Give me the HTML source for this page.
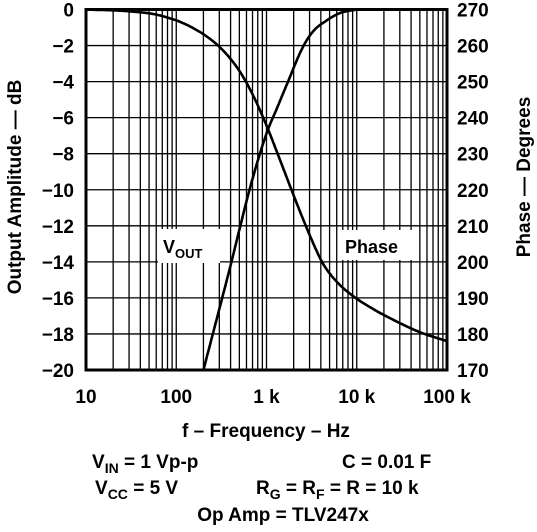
<!DOCTYPE html>
<html><head><meta charset="utf-8"><style>
body{margin:0;background:#fff}
svg text{font-family:"Liberation Sans",Arial,sans-serif;font-weight:bold;fill:#000}
</style></head><body>
<svg width="537" height="527" viewBox="0 0 537 527">
<g id="grid"></g>
<g id="curves"></g>
<g id="labels"></g>
<rect x="86" y="9.5" width="361" height="360.5" fill="none" stroke="#000" stroke-width="3"/>
<rect x="158" y="229" width="62" height="34" fill="#fff"/>
<text x="163" y="253" font-size="18">V<tspan font-size="13" dy="5">OUT</tspan></text>
<rect x="338" y="230" width="76" height="30" fill="#fff"/>
<text x="345" y="253" font-size="18">Phase</text>
<text x="266" y="437" font-size="19" text-anchor="middle">f – Frequency – Hz</text>
<text transform="translate(21,187) rotate(-90)" font-size="19" text-anchor="middle">Output Amplitude — dB</text>
<text transform="translate(530,177) rotate(-90)" font-size="19" text-anchor="middle">Phase — Degrees</text>
<text x="92" y="468" font-size="19">V<tspan font-size="14" dy="5">IN</tspan><tspan dy="-5"> = 1 Vp-p</tspan></text>
<text x="342" y="468" font-size="19">C = 0.01    F</text>
<text x="95" y="494" font-size="19">V<tspan font-size="14" dy="5">CC</tspan><tspan dy="-5"> = 5 V</tspan></text>
<text x="256" y="494" font-size="19">R<tspan font-size="14" dy="5">G</tspan><tspan dy="-5"> = R</tspan><tspan font-size="14" dy="5">F</tspan><tspan dy="-5"> = R = 10 k</tspan></text>
<text x="283" y="521" font-size="19" text-anchor="middle">Op Amp = TLV247x</text>
</svg>
<script>
const ampFreq=[10,30,66,150,305,500,700,1013,1400,1960,3000,4230,6000,9100,15000,25000,50000,100000];
const ampDb=[0,-0.1,-0.33,-1.0,-2.1,-3.4,-4.7,-6.5,-8.3,-10.2,-12.5,-14.1,-15.1,-15.9,-16.6,-17.2,-17.9,-18.4];
const phFreq=[200,395,660,1000,1300,1700,2520,3300,4670,6500,9000,11000,100000];
const phDeg=[170,198.5,220.7,235.6,242.5,249.5,259.5,264,267,269,269.8,270,270];
const xTicks=[10,100,1000,10000,100000];
const xTickLabels=["10","100","1 k","10 k","100 k"];
const yTicks=[0,-2,-4,-6,-8,-10,-12,-14,-16,-18,-20];
const yTickLabels=["0","−2","−4","−6","−8","−10","−12","−14","−16","−18","−20"];
const y2Ticks=[270,260,250,240,230,220,210,200,190,180,170];

const L=86,R=447,T=9.5,B=370;
const NS="http://www.w3.org/2000/svg";
function xs(f){return L+(Math.log10(f)-1)/4*(R-L);}
function ys(d){return T+(0-d)/20*(B-T);}
function y2(p){return B-(p-170)/100*(B-T);}
function mk(tag,attrs,parent){const e=document.createElementNS(NS,tag);for(const k in attrs)e.setAttribute(k,attrs[k]);parent.appendChild(e);return e;}
const grid=document.getElementById('grid'),curves=document.getElementById('curves'),labels=document.getElementById('labels');
for(let d=1;d<=4;d++)for(let m=1;m<=9;m++){
  const f=Math.pow(10,d)*m;const x=xs(f);
  const l=mk('line',{x1:x,x2:x,y1:T,y2:B,stroke:'#000','stroke-width':1.3},grid);
  
  
}
yTicks.forEach(v=>{const y=ys(v);const l=mk('line',{x1:L,x2:R,y1:y,y2:y,stroke:'#000','stroke-width':1.3},grid);
  
  });
function monotone(fa,va){
  const x=fa.map(f=>Math.log10(f)),n=x.length,d=[],m=new Array(n);
  for(let i=0;i<n-1;i++)d.push((va[i+1]-va[i])/(x[i+1]-x[i]));
  m[0]=d[0];m[n-1]=d[n-2];
  for(let i=1;i<n-1;i++){m[i]=(d[i-1]*d[i]<=0)?0:(d[i-1]+d[i])/2;}
  for(let i=0;i<n-1;i++){if(d[i]===0){m[i]=0;m[i+1]=0;continue;}
    const a=m[i]/d[i],b=m[i+1]/d[i],s=a*a+b*b;if(s>9){const t=3/Math.sqrt(s);m[i]=t*a*d[i];m[i+1]=t*b*d[i];}}
  const F=[],V=[];
  for(let i=0;i<n-1;i++){const h=x[i+1]-x[i];
    for(let k=0;k<20;k++){const t=k/20,t2=t*t,t3=t2*t;
      const v=(2*t3-3*t2+1)*va[i]+(t3-2*t2+t)*h*m[i]+(-2*t3+3*t2)*va[i+1]+(t3-t2)*h*m[i+1];
      F.push(Math.pow(10,x[i]+t*h));V.push(v);}}
  F.push(fa[n-1]);V.push(va[n-1]);return [F,V];}
function path(fa,va,sc,name){
  let d='';fa.forEach((f,i)=>{d+=(i?'L':'M')+xs(f).toFixed(1)+','+sc(va[i]).toFixed(1);});
  const p=mk('path',{d:d,fill:'none',stroke:'#000','stroke-width':2.6,'stroke-linejoin':'round'},curves);
  
  
}
let s=monotone(ampFreq,ampDb);path(s[0],s[1],ys,'vout-curve');
s=monotone(phFreq,phDeg);path(s[0],s[1].map(v=>Math.min(270,v)),y2,'phase-curve');
xTicks.forEach((f,i)=>{const t=mk('text',{x:xs(f),y:403,'font-size':19,'text-anchor':'middle'},labels);t.textContent=xTickLabels[i];
  
  });
yTicks.forEach((v,i)=>{const t=mk('text',{x:74,y:ys(v)+7,'font-size':19,'text-anchor':'end'},labels);t.textContent=yTickLabels[i];
  
  });
y2Ticks.forEach(v=>{const t=mk('text',{x:457,y:y2(v)+7,'font-size':19},labels);t.textContent=v;
  
  });
</script>
</body></html>
